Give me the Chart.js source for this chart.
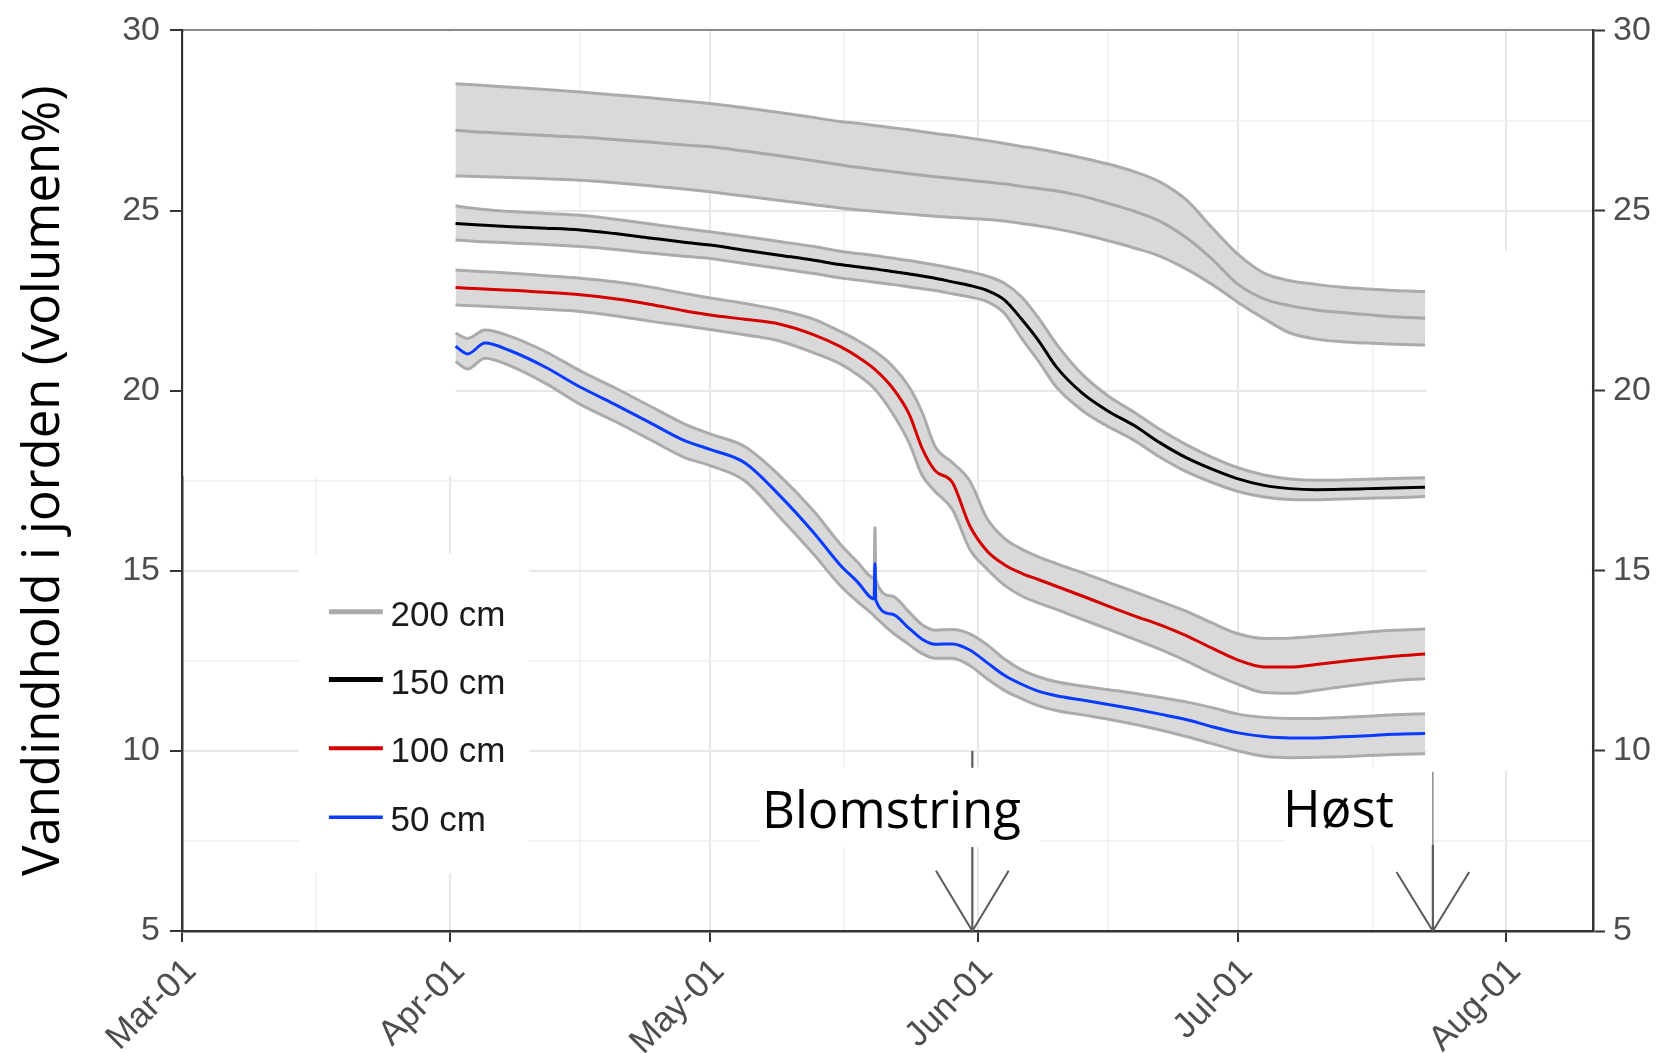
<!DOCTYPE html>
<html>
<head>
<meta charset="utf-8">
<script src="https://cdn.jsdelivr.net/npm/chart.js@4.4.1/dist/chart.umd.min.js"></script>
<style>
html,body{margin:0;padding:0;background:#ffffff;}
#c{display:block;}
</style>
</head>
<body>
<canvas id="c" width="1658" height="1053"></canvas>
<script>
// ---------- axis / tick data ----------
const monthTicks  = [0, 31, 61, 92, 122, 153];          // days since 1 March
const monthLabels = ['Mar-01', 'Apr-01', 'May-01', 'Jun-01', 'Jul-01', 'Aug-01'];
const minorXTicks = [15.5, 46, 76.5, 107, 137.5];
const yTicks      = [5, 10, 15, 20, 25, 30];
const yMinorTicks = [7.5, 12.5, 17.5, 22.5, 27.5];
const seriesNames = ['200 cm', '150 cm', '100 cm', '50 cm'];
const yTitle = 'Vandindhold i jorden (volumen%)';

// ---------- series data (days since 1 March) ----------
const days = [31.6, 33, 35, 38, 42, 46, 50, 54, 58, 61, 65, 69, 73, 76, 78, 80, 82, 84, 85.5, 87,
              89, 91, 93, 95, 97, 99, 101, 104, 107, 110, 113, 116, 119, 122, 125, 128, 131, 134, 137, 140, 143.6];

const d200Mean  = [27.23, 27.2, 27.17, 27.13, 27.08, 27.04, 26.97, 26.9, 26.82, 26.77, 26.65, 26.52, 26.38, 26.27, 26.2, 26.14, 26.08, 26.02, 25.98, 25.94,
                   25.89, 25.84, 25.79, 25.74, 25.67, 25.61, 25.54, 25.4, 25.2, 24.98, 24.7, 24.25, 23.65, 22.95, 22.55, 22.36, 22.24, 22.17, 22.11, 22.05, 22.01];
const d200Upper = [28.52, 28.5, 28.47, 28.42, 28.36, 28.29, 28.21, 28.13, 28.04, 27.97, 27.85, 27.72, 27.58, 27.47, 27.42, 27.36, 27.3, 27.24, 27.19, 27.14,
                   27.08, 27.01, 26.94, 26.86, 26.78, 26.7, 26.61, 26.46, 26.29, 26.08, 25.79, 25.3, 24.52, 23.78, 23.26, 23.05, 22.95, 22.87, 22.82, 22.78, 22.75];
const d200Lower = [25.96, 25.95, 25.94, 25.92, 25.88, 25.84, 25.77, 25.69, 25.6, 25.52, 25.4, 25.28, 25.16, 25.07, 25.02, 24.98, 24.94, 24.9, 24.87, 24.84,
                   24.81, 24.78, 24.75, 24.71, 24.64, 24.57, 24.49, 24.34, 24.16, 23.96, 23.73, 23.38, 22.95, 22.45, 22.0, 21.6, 21.43, 21.36, 21.32, 21.29, 21.27];

const d150Mean  = [24.64, 24.62, 24.59, 24.55, 24.51, 24.46, 24.36, 24.24, 24.12, 24.04, 23.9, 23.76, 23.62, 23.5, 23.44, 23.38, 23.31, 23.24, 23.18, 23.12,
                   23.02, 22.92, 22.78, 22.52, 21.98, 21.37, 20.66, 19.93, 19.43, 19.03, 18.55, 18.14, 17.82, 17.55, 17.37, 17.28, 17.25, 17.26, 17.28, 17.3, 17.32];
const d150Upper = [25.13, 25.08, 25.03, 24.97, 24.92, 24.87, 24.76, 24.63, 24.5, 24.41, 24.28, 24.14, 24.0, 23.87, 23.81, 23.75, 23.68, 23.61, 23.55, 23.49,
                   23.4, 23.3, 23.18, 22.98, 22.6, 22.0, 21.3, 20.45, 19.85, 19.4, 18.92, 18.5, 18.15, 17.86, 17.66, 17.55, 17.51, 17.52, 17.54, 17.56, 17.58];
const d150Lower = [24.18, 24.16, 24.13, 24.1, 24.06, 24.0, 23.92, 23.82, 23.73, 23.67, 23.53, 23.39, 23.25, 23.13, 23.07, 23.01, 22.95, 22.88, 22.83, 22.78,
                   22.69, 22.6, 22.47, 22.15, 21.45, 20.8, 20.1, 19.45, 19.0, 18.62, 18.15, 17.75, 17.45, 17.2, 17.05, 16.98, 16.97, 16.99, 17.01, 17.03, 17.06];

const d100Mean  = [22.86, 22.84, 22.82, 22.79, 22.73, 22.66, 22.55, 22.4, 22.22, 22.1, 21.98, 21.85, 21.55, 21.23, 20.95, 20.6, 20.1, 19.35, 18.4, 17.78,
                   17.45, 16.25, 15.55, 15.17, 14.93, 14.75, 14.57, 14.3, 14.02, 13.75, 13.5, 13.2, 12.85, 12.52, 12.33, 12.33, 12.4, 12.48, 12.56, 12.63, 12.69];
const d100Upper = [23.35, 23.33, 23.3, 23.26, 23.19, 23.12, 23.02, 22.88, 22.7, 22.57, 22.42, 22.24, 21.98, 21.65, 21.4, 21.1, 20.7, 20.1, 19.4, 18.45,
                   18.0, 17.5, 16.45, 15.9, 15.6, 15.38, 15.2, 14.95, 14.68, 14.42, 14.15, 13.88, 13.55, 13.25, 13.12, 13.13, 13.18, 13.24, 13.3, 13.35, 13.38];
const d100Lower = [22.38, 22.36, 22.34, 22.31, 22.26, 22.2, 22.08, 21.93, 21.8, 21.7, 21.55, 21.38, 21.05, 20.75, 20.45, 20.05, 19.4, 18.55, 17.65, 17.2,
                   16.7, 15.6, 15.05, 14.6, 14.3, 14.1, 13.93, 13.65, 13.38, 13.1, 12.82, 12.5, 12.15, 11.85, 11.62, 11.6, 11.68, 11.78, 11.87, 11.95, 12.0];

const days50 = [31.6, 33, 35, 38, 42, 46, 50, 54, 58, 61, 65, 69, 73, 76, 78, 79.95, 80.05, 80.15, 82, 84, 85.5, 87,
                89, 91, 93, 95, 97, 99, 101, 104, 107, 110, 113, 116, 119, 122, 125, 128, 131, 134, 137, 140, 143.6];
const d50Mean  = [21.23, 21.02, 21.32, 21.1, 20.65, 20.1, 19.62, 19.12, 18.62, 18.37, 18.0, 17.1, 16.05, 15.17, 14.7, 14.22, 15.2, 14.18, 13.8, 13.4, 13.1, 12.96,
                  12.97, 12.8, 12.45, 12.1, 11.85, 11.65, 11.53, 11.41, 11.29, 11.16, 11.02, 10.87, 10.67, 10.5, 10.4, 10.36, 10.36, 10.39, 10.42, 10.46, 10.48];
const d50Upper = [21.6, 21.45, 21.68, 21.5, 21.08, 20.55, 20.08, 19.58, 19.08, 18.8, 18.45, 17.65, 16.65, 15.75, 15.25, 14.8, 16.2, 14.75, 14.3, 13.85, 13.5, 13.35,
                  13.37, 13.25, 12.95, 12.55, 12.25, 12.05, 11.92, 11.8, 11.7, 11.6, 11.48, 11.36, 11.2, 11.02, 10.93, 10.9, 10.9, 10.93, 10.96, 11.0, 11.03];
const d50Lower = [20.81, 20.6, 20.9, 20.68, 20.2, 19.62, 19.15, 18.65, 18.15, 17.92, 17.5, 16.5, 15.45, 14.6, 14.15, 13.75, 13.72, 13.7, 13.3, 12.95, 12.7, 12.57,
                  12.57, 12.37, 12.0, 11.68, 11.45, 11.25, 11.12, 11.0, 10.88, 10.74, 10.58, 10.4, 10.2, 10.0, 9.85, 9.81, 9.82, 9.84, 9.87, 9.9, 9.92];

// ---------- styling ----------
const BAND_FILL = '#d9d9d9';
const BAND_EDGE = '#ababab';
const seriesColors = ['#a8a8a8', '#000000', '#d40000', '#0a3cff'];
const legendWidths = [5, 5, 4, 3.5];

const pts = (xs, ys) => xs.map((x, i) => ({x: x, y: ys[i]}));

function edge(data, fillPrev) {
  return {
    data: data, order: 1, borderColor: BAND_EDGE, borderWidth: 3, pointRadius: 0,
    cubicInterpolationMode: 'monotone', fill: fillPrev ? '-1' : false,
    backgroundColor: BAND_FILL
  };
}
function meanLine(data, color) {
  return {
    data: data, order: 0, borderColor: color, borderWidth: 3, pointRadius: 0,
    cubicInterpolationMode: 'monotone', fill: false
  };
}

const datasets = [
  edge(pts(days, d200Upper), false), edge(pts(days, d200Lower), true),
  edge(pts(days, d150Upper), false), edge(pts(days, d150Lower), true),
  edge(pts(days, d100Upper), false), edge(pts(days, d100Lower), true),
  edge(pts(days50, d50Upper), false), edge(pts(days50, d50Lower), true),
  meanLine(pts(days, d200Mean), seriesColors[0]),
  meanLine(pts(days, d150Mean), seriesColors[1]),
  meanLine(pts(days, d100Mean), seriesColors[2]),
  meanLine(pts(days50, d50Mean), seriesColors[3])
];

// white patches of the original collage, in data units [day0, day1, v0, v1]
const whiteBoxes = [
  [0.15, 31.6, 29.95, 17.62],
  [13.5, 40.1, 15.47, 6.6],
  [143.8, 162.85, 23.88, 9.46]
];
const labelBoxes = [
  [66.8, 99.1, 9.55, 7.33],
  [127.4, 144.3, 9.55, 7.39]
];
const labelTexts = [
  {text: 'Blomstring', day: 67.0, v: 7.85},
  {text: 'Høst', day: 127.2, v: 7.9}
];
const arrowDefs = [
  {day: 91.3, segs: [[10.0, 9.53], [7.33, 5.0]], half: 4.2, headV: 6.67},
  {day: 144.5, segs: [[9.42, 7.4], [7.4, 5.0]], half: 4.2, headV: 6.64}
];
const legendPos = {lineDay0: 16.97, lineDay1: 23.2, textDay: 24.1, rows: [13.86, 11.98, 10.07, 8.16]};

const collagePlugin = {
  id: 'collage',
  beforeDatasetsDraw(chart) {
    const {ctx, scales: {x, y}} = chart;
    ctx.save();
    ctx.fillStyle = '#ffffff';
    for (const b of whiteBoxes) {
      const x0 = x.getPixelForValue(b[0]), x1 = x.getPixelForValue(b[1]);
      const y0 = y.getPixelForValue(b[2]), y1 = y.getPixelForValue(b[3]);
      ctx.fillRect(x0, y0, x1 - x0, y1 - y0);
    }
    ctx.restore();
  },
  afterDatasetsDraw(chart) {
    const {ctx, scales: {x, y}} = chart;
    ctx.save();
    // label backgrounds
    ctx.fillStyle = '#ffffff';
    for (const b of labelBoxes) {
      const x0 = x.getPixelForValue(b[0]), x1 = x.getPixelForValue(b[1]);
      const y0 = y.getPixelForValue(b[2]), y1 = y.getPixelForValue(b[3]);
      ctx.fillRect(x0, y0, x1 - x0, y1 - y0);
    }
    // arrows
    ctx.lineCap = 'butt';
    arrowDefs.forEach((a, ai) => {
      const px = x.getPixelForValue(a.day);
      a.segs.forEach((s, si) => {
        ctx.lineWidth = (ai === 1 && si === 0) ? 1.5 : 2.2;
        ctx.strokeStyle = (ai === 1 && si === 0) ? '#8a8a8a' : '#5a5a5a';
        ctx.beginPath();
        ctx.moveTo(px, y.getPixelForValue(s[0]));
        ctx.lineTo(px, y.getPixelForValue(s[1]));
        ctx.stroke();
      });
      ctx.strokeStyle = '#5a5a5a';
      ctx.lineWidth = 2;
      const tipY = y.getPixelForValue(5);
      const hy = y.getPixelForValue(a.headV);
      ctx.beginPath();
      ctx.moveTo(x.getPixelForValue(a.day - a.half), hy);
      ctx.lineTo(px, tipY);
      ctx.lineTo(x.getPixelForValue(a.day + a.half), hy);
      ctx.stroke();
    });
    // label texts
    ctx.fillStyle = '#000000';
    ctx.font = '51px "Open Sans", "Noto Sans", sans-serif';
    ctx.textBaseline = 'alphabetic';
    ctx.textAlign = 'left';
    for (const t of labelTexts) {
      ctx.fillText(t.text, x.getPixelForValue(t.day), y.getPixelForValue(t.v));
    }
    // legend
    ctx.font = '35px "Liberation Sans", Arial, sans-serif';
    ctx.fillStyle = '#1a1a1a';
    seriesNames.forEach((name, i) => {
      const py = y.getPixelForValue(legendPos.rows[i]);
      ctx.strokeStyle = i === 0 ? BAND_EDGE : seriesColors[i];
      ctx.lineWidth = legendWidths[i];
      ctx.beginPath();
      ctx.moveTo(x.getPixelForValue(legendPos.lineDay0), py);
      ctx.lineTo(x.getPixelForValue(legendPos.lineDay1), py);
      ctx.stroke();
      ctx.fillText(name, x.getPixelForValue(legendPos.textDay), py + 14);
    });
    ctx.restore();
  }
};

const xAll = [...monthTicks, ...minorXTicks].sort((a, b) => a - b);
const yAll = [...yTicks, ...yMinorTicks].sort((a, b) => a - b);
const isMajX = c => c.tick && monthTicks.includes(c.tick.value);
const isMajY = c => c.tick && yTicks.includes(c.tick.value);
const tickFont = {family: '"Liberation Sans", Arial, sans-serif', size: 34};

new Chart(document.getElementById('c'), {
  type: 'line',
  data: {datasets: datasets},
  options: {
    responsive: false,
    devicePixelRatio: 1,
    animation: false,
    events: [],
    layout: {padding: {top: 28, left: 0, right: 0, bottom: 0}},
    plugins: {legend: {display: false}, tooltip: {enabled: false}},
    scales: {
      x: {
        type: 'linear', min: 0, max: 163,
        afterBuildTicks: s => { s.ticks = xAll.map(v => ({value: v})); },
        afterFit: s => { s.height = 122; },
        grid: {
          color: c => isMajX(c) ? '#e8e8e8' : '#f0f0f0',
          lineWidth: c => isMajX(c) ? 2 : 1.5,
          tickColor: c => isMajX(c) ? '#333333' : 'rgba(0,0,0,0)',
          tickLength: 11, tickWidth: 2
        },
        border: {display: true, color: '#333333', width: 2.5},
        ticks: {
          autoSkip: false, maxRotation: 45, minRotation: 45, padding: 9, labelOffset: 9,
          color: '#4d4d4d', font: {family: tickFont.family, size: 35},
          callback: v => { const i = monthTicks.indexOf(v); return i >= 0 ? monthLabels[i] : ''; }
        }
      },
      y: {
        position: 'left', min: 5, max: 30,
        afterBuildTicks: s => { s.ticks = yAll.map(v => ({value: v})); },
        afterFit: s => { s.width = 182; },
        grid: {
          color: c => (c.tick && c.tick.value === 30) ? '#8c8c8c' : (isMajY(c) ? '#e8e8e8' : '#f0f0f0'),
          lineWidth: c => isMajY(c) ? 2 : 1.5,
          tickColor: c => isMajY(c) ? '#333333' : 'rgba(0,0,0,0)',
          tickLength: 12, tickWidth: 2
        },
        border: {display: true, color: '#333333', width: 2.5},
        ticks: {
          padding: 10, color: '#4d4d4d', font: tickFont,
          callback: v => yTicks.includes(v) ? String(v) : ''
        },
        title: {
          display: true, text: yTitle, color: '#000000',
          font: {family: '"Open Sans", "Noto Sans", sans-serif', size: 51},
          padding: {top: 14, bottom: 0}
        }
      },
      y2: {
        position: 'right', min: 5, max: 30,
        afterBuildTicks: s => { s.ticks = yAll.map(v => ({value: v})); },
        afterFit: s => { s.width = 65; },
        grid: {
          drawOnChartArea: false,
          tickColor: c => isMajY(c) ? '#333333' : 'rgba(0,0,0,0)',
          tickLength: 12, tickWidth: 2
        },
        border: {display: true, color: '#333333', width: 2.5},
        ticks: {
          padding: 8, color: '#4d4d4d', font: tickFont,
          callback: v => yTicks.includes(v) ? String(v) : ''
        }
      }
    }
  },
  plugins: [collagePlugin]
});
</script>
</body>
</html>
